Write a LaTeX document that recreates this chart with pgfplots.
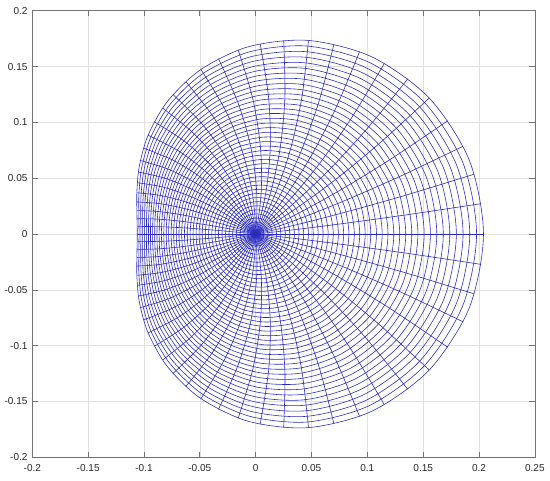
\documentclass[border=0pt]{standalone}
\usepackage{pgfplots}
\pgfplotsset{compat=1.18}
\usepackage{fontspec}
\setmainfont{Liberation Sans}
\definecolor{meshblue}{RGB}{40,40,190}
\pgfplotsset{
  ring/.style={color=meshblue, line width=0.42pt, smooth cycle, tension=0.5},
  ray/.style={color=meshblue, line width=0.42pt, smooth, tension=0.5},
}
\begin{document}
\begin{tikzpicture}
\useasboundingbox (0,0) rectangle (400pt,349.1pt);
\begin{axis}[
  at={(23.5pt,16.5pt)}, anchor=south west,
  scale only axis, width=365.5pt, height=324.8pt,
  xmin=-0.2, xmax=0.25, ymin=-0.2, ymax=0.2,
  xtick={-0.2,-0.15,-0.1,-0.05,0,0.05,0.1,0.15,0.2,0.25},
  ytick={-0.2,-0.15,-0.1,-0.05,0,0.05,0.1,0.15,0.2},
  scaled ticks=false,
  /pgf/number format/fixed, /pgf/number format/precision=2,
  /pgf/number format/assume math mode=true,
  tick label style={font=\fontsize{7.3}{8.5}\selectfont, text=black!85},
  xticklabel style={yshift=-1.5pt},
  grid=major, major grid style={black!12, line width=0.4pt},
  axis line style={black!55, line width=0.5pt},
  major tick style={black!55, line width=0.5pt},
  major tick length=4pt,
]
% rings (rho = k/42)
\addplot[ring] coordinates {(0.0036,0) (0.0035,0.0009) (0.0031,0.0018) (0.0025,0.0026) (0.0018,0.0031) (0.0009,0.0035) (0,0.0036) (-0.0010,0.0035) (-0.0018,0.0031) (-0.0025,0.0025) (-0.0031,0.0018) (-0.0035,0.0009) (-0.0036,0) (-0.0035,-0.0009) (-0.0031,-0.0018) (-0.0025,-0.0025) (-0.0018,-0.0031) (-0.0010,-0.0035) (0,-0.0036) (0.0009,-0.0035) (0.0018,-0.0031) (0.0025,-0.0026) (0.0031,-0.0018) (0.0035,-0.0009)};
\addplot[ring] coordinates {(0.0073,0) (0.0071,0.0019) (0.0063,0.0037) (0.0051,0.0052) (0.0035,0.0063) (0.0018,0.0070) (-0.0001,0.0072) (-0.0020,0.0069) (-0.0037,0.0061) (-0.0051,0.0050) (-0.0062,0.0035) (-0.0069,0.0018) (-0.0071,0) (-0.0069,-0.0018) (-0.0062,-0.0035) (-0.0051,-0.0050) (-0.0037,-0.0061) (-0.0020,-0.0069) (-0.0001,-0.0072) (0.0018,-0.0070) (0.0035,-0.0063) (0.0051,-0.0052) (0.0063,-0.0037) (0.0071,-0.0019)};
\addplot[ring] coordinates {(0.0111,0) (0.0106,0.0029) (0.0095,0.0056) (0.0076,0.0079) (0.0053,0.0096) (0.0026,0.0106) (-0.0003,0.0108) (-0.0030,0.0103) (-0.0055,0.0091) (-0.0076,0.0074) (-0.0092,0.0052) (-0.0102,0.0027) (-0.0106,0) (-0.0102,-0.0027) (-0.0092,-0.0052) (-0.0076,-0.0074) (-0.0055,-0.0091) (-0.0030,-0.0103) (-0.0003,-0.0108) (0.0026,-0.0106) (0.0053,-0.0096) (0.0076,-0.0079) (0.0095,-0.0056) (0.0106,-0.0029)};
\addplot[ring] coordinates {(0.0148,0) (0.0143,0.0040) (0.0127,0.0076) (0.0102,0.0106) (0.0070,0.0129) (0.0033,0.0141) (-0.0004,0.0144) (-0.0041,0.0137) (-0.0074,0.0121) (-0.0102,0.0097) (-0.0122,0.0068) (-0.0135,0.0035) (-0.0140,0) (-0.0135,-0.0035) (-0.0122,-0.0068) (-0.0102,-0.0097) (-0.0074,-0.0121) (-0.0041,-0.0137) (-0.0004,-0.0144) (0.0033,-0.0141) (0.0070,-0.0129) (0.0102,-0.0106) (0.0127,-0.0076) (0.0143,-0.0040)};
\addplot[ring] coordinates {(0.0187,0) (0.0180,0.0050) (0.0159,0.0096) (0.0127,0.0134) (0.0086,0.0162) (0.0041,0.0177) (-0.0007,0.0180) (-0.0053,0.0170) (-0.0093,0.0150) (-0.0127,0.0120) (-0.0152,0.0084) (-0.0168,0.0043) (-0.0173,0) (-0.0168,-0.0043) (-0.0152,-0.0084) (-0.0127,-0.0120) (-0.0093,-0.0150) (-0.0053,-0.0170) (-0.0007,-0.0180) (0.0041,-0.0177) (0.0086,-0.0162) (0.0127,-0.0134) (0.0159,-0.0096) (0.0180,-0.0050)};
\addplot[ring] coordinates {(0.0226,0) (0.0217,0.0061) (0.0192,0.0117) (0.0153,0.0163) (0.0103,0.0196) (0.0047,0.0214) (-0.0010,0.0216) (-0.0064,0.0204) (-0.0113,0.0178) (-0.0153,0.0143) (-0.0182,0.0099) (-0.0200,0.0051) (-0.0206,0) (-0.0200,-0.0051) (-0.0182,-0.0099) (-0.0153,-0.0143) (-0.0113,-0.0178) (-0.0064,-0.0204) (-0.0010,-0.0216) (0.0047,-0.0214) (0.0103,-0.0196) (0.0153,-0.0163) (0.0192,-0.0117) (0.0217,-0.0061)};
\addplot[ring] coordinates {(0.0266,0) (0.0255,0.0072) (0.0225,0.0138) (0.0178,0.0192) (0.0119,0.0230) (0.0053,0.0250) (-0.0014,0.0252) (-0.0077,0.0236) (-0.0133,0.0206) (-0.0178,0.0165) (-0.0211,0.0114) (-0.0232,0.0059) (-0.0239,0) (-0.0232,-0.0059) (-0.0211,-0.0114) (-0.0178,-0.0165) (-0.0133,-0.0206) (-0.0077,-0.0236) (-0.0014,-0.0252) (0.0053,-0.0250) (0.0119,-0.0230) (0.0178,-0.0192) (0.0225,-0.0138) (0.0255,-0.0072)};
\addplot[ring] coordinates {(0.0306,0) (0.0294,0.0084) (0.0258,0.0160) (0.0203,0.0222) (0.0135,0.0265) (0.0059,0.0287) (-0.0018,0.0288) (-0.0090,0.0269) (-0.0153,0.0234) (-0.0203,0.0186) (-0.0241,0.0129) (-0.0263,0.0066) (-0.0270,0) (-0.0263,-0.0066) (-0.0241,-0.0129) (-0.0203,-0.0186) (-0.0153,-0.0234) (-0.0090,-0.0269) (-0.0018,-0.0288) (0.0059,-0.0287) (0.0135,-0.0265) (0.0203,-0.0222) (0.0258,-0.0160) (0.0294,-0.0084)};
\addplot[ring] coordinates {(0.0347,0) (0.0333,0.0095) (0.0292,0.0182) (0.0229,0.0252) (0.0150,0.0300) (0.0064,0.0324) (-0.0023,0.0324) (-0.0103,0.0301) (-0.0173,0.0261) (-0.0229,0.0207) (-0.0269,0.0143) (-0.0294,0.0073) (-0.0302,0) (-0.0294,-0.0073) (-0.0269,-0.0143) (-0.0229,-0.0207) (-0.0173,-0.0261) (-0.0103,-0.0301) (-0.0023,-0.0324) (0.0064,-0.0324) (0.0150,-0.0300) (0.0229,-0.0252) (0.0292,-0.0182) (0.0333,-0.0095)};
\addplot[ring] coordinates {(0.0388,0) (0.0372,0.0107) (0.0326,0.0205) (0.0254,0.0283) (0.0166,0.0336) (0.0069,0.0361) (-0.0028,0.0359) (-0.0117,0.0333) (-0.0193,0.0288) (-0.0254,0.0227) (-0.0298,0.0156) (-0.0324,0.0080) (-0.0333,0) (-0.0324,-0.0080) (-0.0298,-0.0156) (-0.0254,-0.0227) (-0.0193,-0.0288) (-0.0117,-0.0333) (-0.0028,-0.0359) (0.0069,-0.0361) (0.0166,-0.0336) (0.0254,-0.0283) (0.0326,-0.0205) (0.0372,-0.0107)};
\addplot[ring] coordinates {(0.0430,0) (0.0412,0.0120) (0.0360,0.0228) (0.0280,0.0314) (0.0181,0.0372) (0.0073,0.0399) (-0.0034,0.0395) (-0.0131,0.0365) (-0.0214,0.0314) (-0.0280,0.0247) (-0.0326,0.0170) (-0.0354,0.0086) (-0.0363,0) (-0.0354,-0.0086) (-0.0326,-0.0170) (-0.0280,-0.0247) (-0.0214,-0.0314) (-0.0131,-0.0365) (-0.0034,-0.0395) (0.0073,-0.0399) (0.0181,-0.0372) (0.0280,-0.0314) (0.0360,-0.0228) (0.0412,-0.0120)};
\addplot[ring] coordinates {(0.0473,0) (0.0453,0.0132) (0.0394,0.0252) (0.0305,0.0346) (0.0195,0.0409) (0.0077,0.0437) (-0.0040,0.0431) (-0.0146,0.0397) (-0.0235,0.0339) (-0.0305,0.0266) (-0.0354,0.0182) (-0.0383,0.0092) (-0.0393,0) (-0.0383,-0.0092) (-0.0354,-0.0182) (-0.0305,-0.0266) (-0.0235,-0.0339) (-0.0146,-0.0397) (-0.0040,-0.0431) (0.0077,-0.0437) (0.0195,-0.0409) (0.0305,-0.0346) (0.0394,-0.0252) (0.0453,-0.0132)};
\addplot[ring] coordinates {(0.0516,0) (0.0494,0.0145) (0.0429,0.0276) (0.0330,0.0379) (0.0209,0.0446) (0.0080,0.0475) (-0.0047,0.0467) (-0.0161,0.0428) (-0.0256,0.0365) (-0.0330,0.0285) (-0.0382,0.0194) (-0.0412,0.0098) (-0.0422,0) (-0.0412,-0.0098) (-0.0382,-0.0194) (-0.0330,-0.0285) (-0.0256,-0.0365) (-0.0161,-0.0428) (-0.0047,-0.0467) (0.0080,-0.0475) (0.0209,-0.0446) (0.0330,-0.0379) (0.0429,-0.0276) (0.0494,-0.0145)};
\addplot[ring] coordinates {(0.0560,0) (0.0535,0.0159) (0.0464,0.0301) (0.0355,0.0412) (0.0223,0.0484) (0.0082,0.0513) (-0.0054,0.0503) (-0.0177,0.0459) (-0.0278,0.0389) (-0.0355,0.0303) (-0.0409,0.0206) (-0.0441,0.0104) (-0.0451,0) (-0.0441,-0.0104) (-0.0409,-0.0206) (-0.0355,-0.0303) (-0.0278,-0.0389) (-0.0177,-0.0459) (-0.0054,-0.0503) (0.0082,-0.0513) (0.0223,-0.0484) (0.0355,-0.0412) (0.0464,-0.0301) (0.0535,-0.0159)};
\addplot[ring] coordinates {(0.0604,0) (0.0577,0.0172) (0.0499,0.0326) (0.0381,0.0446) (0.0237,0.0522) (0.0084,0.0552) (-0.0063,0.0538) (-0.0193,0.0489) (-0.0300,0.0414) (-0.0381,0.0321) (-0.0436,0.0218) (-0.0469,0.0110) (-0.0479,0) (-0.0469,-0.0110) (-0.0436,-0.0218) (-0.0381,-0.0321) (-0.0300,-0.0414) (-0.0193,-0.0489) (-0.0063,-0.0538) (0.0084,-0.0552) (0.0237,-0.0522) (0.0381,-0.0446) (0.0499,-0.0326) (0.0577,-0.0172)};
\addplot[ring] coordinates {(0.0649,0) (0.0619,0.0186) (0.0534,0.0352) (0.0406,0.0480) (0.0250,0.0560) (0.0086,0.0590) (-0.0071,0.0574) (-0.0209,0.0519) (-0.0321,0.0437) (-0.0406,0.0338) (-0.0463,0.0229) (-0.0496,0.0115) (-0.0507,0) (-0.0496,-0.0115) (-0.0463,-0.0229) (-0.0406,-0.0338) (-0.0321,-0.0437) (-0.0209,-0.0519) (-0.0071,-0.0574) (0.0086,-0.0590) (0.0250,-0.0560) (0.0406,-0.0480) (0.0534,-0.0352) (0.0619,-0.0186)};
\addplot[ring] coordinates {(0.0695,0) (0.0662,0.0200) (0.0570,0.0378) (0.0431,0.0515) (0.0263,0.0600) (0.0087,0.0630) (-0.0080,0.0609) (-0.0226,0.0549) (-0.0344,0.0460) (-0.0431,0.0354) (-0.0490,0.0239) (-0.0523,0.0120) (-0.0534,0) (-0.0523,-0.0120) (-0.0490,-0.0239) (-0.0431,-0.0354) (-0.0344,-0.0460) (-0.0226,-0.0549) (-0.0080,-0.0609) (0.0087,-0.0630) (0.0263,-0.0600) (0.0431,-0.0515) (0.0570,-0.0378) (0.0662,-0.0200)};
\addplot[ring] coordinates {(0.0741,0) (0.0706,0.0215) (0.0606,0.0405) (0.0456,0.0550) (0.0276,0.0639) (0.0088,0.0669) (-0.0090,0.0645) (-0.0244,0.0579) (-0.0366,0.0483) (-0.0456,0.0370) (-0.0516,0.0249) (-0.0550,0.0125) (-0.0561,0) (-0.0550,-0.0125) (-0.0516,-0.0249) (-0.0456,-0.0370) (-0.0366,-0.0483) (-0.0244,-0.0579) (-0.0090,-0.0645) (0.0088,-0.0669) (0.0276,-0.0639) (0.0456,-0.0550) (0.0606,-0.0405) (0.0706,-0.0215)};
\addplot[ring] coordinates {(0.0788,0) (0.0750,0.0230) (0.0643,0.0432) (0.0481,0.0586) (0.0288,0.0679) (0.0088,0.0708) (-0.0100,0.0681) (-0.0261,0.0608) (-0.0389,0.0506) (-0.0481,0.0386) (-0.0542,0.0259) (-0.0576,0.0129) (-0.0587,0) (-0.0576,-0.0129) (-0.0542,-0.0259) (-0.0481,-0.0386) (-0.0389,-0.0506) (-0.0261,-0.0608) (-0.0100,-0.0681) (0.0088,-0.0708) (0.0288,-0.0679) (0.0481,-0.0586) (0.0643,-0.0432) (0.0750,-0.0230)};
\addplot[ring] coordinates {(0.0835,0) (0.0795,0.0245) (0.0679,0.0460) (0.0506,0.0623) (0.0300,0.0720) (0.0087,0.0748) (-0.0111,0.0716) (-0.0280,0.0637) (-0.0411,0.0527) (-0.0506,0.0401) (-0.0568,0.0268) (-0.0602,0.0134) (-0.0613,0) (-0.0602,-0.0134) (-0.0568,-0.0268) (-0.0506,-0.0401) (-0.0411,-0.0527) (-0.0280,-0.0637) (-0.0111,-0.0716) (0.0087,-0.0748) (0.0300,-0.0720) (0.0506,-0.0623) (0.0679,-0.0460) (0.0795,-0.0245)};
\addplot[ring] coordinates {(0.0883,0) (0.0840,0.0260) (0.0716,0.0489) (0.0531,0.0660) (0.0312,0.0761) (0.0086,0.0788) (-0.0123,0.0751) (-0.0298,0.0666) (-0.0435,0.0549) (-0.0531,0.0415) (-0.0593,0.0277) (-0.0627,0.0138) (-0.0638,0) (-0.0627,-0.0138) (-0.0593,-0.0277) (-0.0531,-0.0415) (-0.0435,-0.0549) (-0.0298,-0.0666) (-0.0123,-0.0751) (0.0086,-0.0788) (0.0312,-0.0761) (0.0531,-0.0660) (0.0716,-0.0489) (0.0840,-0.0260)};
\addplot[ring] coordinates {(0.0932,0) (0.0885,0.0276) (0.0753,0.0518) (0.0556,0.0698) (0.0323,0.0802) (0.0085,0.0828) (-0.0134,0.0787) (-0.0318,0.0694) (-0.0458,0.0569) (-0.0556,0.0429) (-0.0619,0.0285) (-0.0652,0.0142) (-0.0663,0) (-0.0652,-0.0142) (-0.0619,-0.0285) (-0.0556,-0.0429) (-0.0458,-0.0569) (-0.0318,-0.0694) (-0.0134,-0.0787) (0.0085,-0.0828) (0.0323,-0.0802) (0.0556,-0.0698) (0.0753,-0.0518) (0.0885,-0.0276)};
\addplot[ring] coordinates {(0.0981,0) (0.0931,0.0292) (0.0791,0.0547) (0.0581,0.0737) (0.0334,0.0844) (0.0083,0.0869) (-0.0147,0.0822) (-0.0337,0.0722) (-0.0481,0.0590) (-0.0581,0.0443) (-0.0644,0.0293) (-0.0677,0.0145) (-0.0687,0) (-0.0677,-0.0145) (-0.0644,-0.0293) (-0.0581,-0.0443) (-0.0481,-0.0590) (-0.0337,-0.0722) (-0.0147,-0.0822) (0.0083,-0.0869) (0.0334,-0.0844) (0.0581,-0.0737) (0.0791,-0.0547) (0.0931,-0.0292)};
\addplot[ring] coordinates {(0.1031,0) (0.0978,0.0309) (0.0828,0.0578) (0.0606,0.0776) (0.0345,0.0887) (0.0080,0.0910) (-0.0160,0.0857) (-0.0357,0.0750) (-0.0505,0.0610) (-0.0606,0.0456) (-0.0668,0.0300) (-0.0701,0.0149) (-0.0711,0) (-0.0701,-0.0149) (-0.0668,-0.0300) (-0.0606,-0.0456) (-0.0505,-0.0610) (-0.0357,-0.0750) (-0.0160,-0.0857) (0.0080,-0.0910) (0.0345,-0.0887) (0.0606,-0.0776) (0.0828,-0.0578) (0.0978,-0.0309)};
\addplot[ring] coordinates {(0.1082,0) (0.1025,0.0325) (0.0866,0.0608) (0.0631,0.0816) (0.0355,0.0930) (0.0077,0.0951) (-0.0174,0.0892) (-0.0378,0.0777) (-0.0529,0.0629) (-0.0631,0.0468) (-0.0693,0.0308) (-0.0725,0.0152) (-0.0734,0) (-0.0725,-0.0152) (-0.0693,-0.0308) (-0.0631,-0.0468) (-0.0529,-0.0629) (-0.0378,-0.0777) (-0.0174,-0.0892) (0.0077,-0.0951) (0.0355,-0.0930) (0.0631,-0.0816) (0.0866,-0.0608) (0.1025,-0.0325)};
\addplot[ring] coordinates {(0.1133,0) (0.1073,0.0342) (0.0904,0.0640) (0.0656,0.0856) (0.0365,0.0973) (0.0073,0.0992) (-0.0188,0.0927) (-0.0399,0.0804) (-0.0553,0.0648) (-0.0656,0.0480) (-0.0717,0.0314) (-0.0748,0.0155) (-0.0757,0) (-0.0748,-0.0155) (-0.0717,-0.0314) (-0.0656,-0.0480) (-0.0553,-0.0648) (-0.0399,-0.0804) (-0.0188,-0.0927) (0.0073,-0.0992) (0.0365,-0.0973) (0.0656,-0.0856) (0.0904,-0.0640) (0.1073,-0.0342)};
\addplot[ring] coordinates {(0.1185,0) (0.1121,0.0360) (0.0943,0.0671) (0.0680,0.0897) (0.0375,0.1017) (0.0069,0.1033) (-0.0203,0.0962) (-0.0420,0.0831) (-0.0577,0.0666) (-0.0680,0.0492) (-0.0741,0.0321) (-0.0771,0.0157) (-0.0780,0) (-0.0771,-0.0157) (-0.0741,-0.0321) (-0.0680,-0.0492) (-0.0577,-0.0666) (-0.0420,-0.0831) (-0.0203,-0.0962) (0.0069,-0.1033) (0.0375,-0.1017) (0.0680,-0.0897) (0.0943,-0.0671) (0.1121,-0.0360)};
\addplot[ring] coordinates {(0.1237,0) (0.1170,0.0378) (0.0982,0.0704) (0.0705,0.0938) (0.0384,0.1062) (0.0064,0.1075) (-0.0218,0.0997) (-0.0442,0.0857) (-0.0602,0.0684) (-0.0705,0.0503) (-0.0764,0.0327) (-0.0793,0.0160) (-0.0801,0) (-0.0793,-0.0160) (-0.0764,-0.0327) (-0.0705,-0.0503) (-0.0602,-0.0684) (-0.0442,-0.0857) (-0.0218,-0.0997) (0.0064,-0.1075) (0.0384,-0.1062) (0.0705,-0.0938) (0.0982,-0.0704) (0.1170,-0.0378)};
\addplot[ring] coordinates {(0.1290,0) (0.1220,0.0396) (0.1021,0.0737) (0.0729,0.0981) (0.0393,0.1106) (0.0059,0.1116) (-0.0234,0.1032) (-0.0464,0.0883) (-0.0626,0.0702) (-0.0729,0.0513) (-0.0787,0.0332) (-0.0815,0.0162) (-0.0823,0) (-0.0815,-0.0162) (-0.0787,-0.0332) (-0.0729,-0.0513) (-0.0626,-0.0702) (-0.0464,-0.0883) (-0.0234,-0.1032) (0.0059,-0.1116) (0.0393,-0.1106) (0.0729,-0.0981) (0.1021,-0.0737) (0.1220,-0.0396)};
\addplot[ring] coordinates {(0.1344,0) (0.1269,0.0414) (0.1060,0.0770) (0.0754,0.1023) (0.0401,0.1152) (0.0053,0.1158) (-0.0250,0.1066) (-0.0486,0.0908) (-0.0651,0.0719) (-0.0754,0.0523) (-0.0810,0.0337) (-0.0836,0.0164) (-0.0844,0) (-0.0836,-0.0164) (-0.0810,-0.0337) (-0.0754,-0.0523) (-0.0651,-0.0719) (-0.0486,-0.0908) (-0.0250,-0.1066) (0.0053,-0.1158) (0.0401,-0.1152) (0.0754,-0.1023) (0.1060,-0.0770) (0.1269,-0.0414)};
\addplot[ring] coordinates {(0.1398,0) (0.1320,0.0433) (0.1100,0.0804) (0.0778,0.1067) (0.0409,0.1198) (0.0047,0.1201) (-0.0267,0.1101) (-0.0509,0.0934) (-0.0676,0.0735) (-0.0778,0.0533) (-0.0833,0.0342) (-0.0858,0.0166) (-0.0864,0) (-0.0858,-0.0166) (-0.0833,-0.0342) (-0.0778,-0.0533) (-0.0676,-0.0735) (-0.0509,-0.0934) (-0.0267,-0.1101) (0.0047,-0.1201) (0.0409,-0.1198) (0.0778,-0.1067) (0.1100,-0.0804) (0.1320,-0.0433)};
\addplot[ring] coordinates {(0.1453,0) (0.1371,0.0452) (0.1140,0.0839) (0.0803,0.1111) (0.0417,0.1244) (0.0040,0.1243) (-0.0284,0.1135) (-0.0533,0.0959) (-0.0702,0.0751) (-0.0803,0.0542) (-0.0855,0.0346) (-0.0878,0.0168) (-0.0884,0) (-0.0878,-0.0168) (-0.0855,-0.0346) (-0.0803,-0.0542) (-0.0702,-0.0751) (-0.0533,-0.0959) (-0.0284,-0.1135) (0.0040,-0.1243) (0.0417,-0.1244) (0.0803,-0.1111) (0.1140,-0.0839) (0.1371,-0.0452)};
\addplot[ring] coordinates {(0.1509,0) (0.1422,0.0472) (0.1180,0.0874) (0.0827,0.1156) (0.0424,0.1291) (0.0033,0.1286) (-0.0303,0.1170) (-0.0556,0.0983) (-0.0727,0.0767) (-0.0827,0.0551) (-0.0878,0.0350) (-0.0899,0.0169) (-0.0904,0) (-0.0899,-0.0169) (-0.0878,-0.0350) (-0.0827,-0.0551) (-0.0727,-0.0767) (-0.0556,-0.0983) (-0.0303,-0.1170) (0.0033,-0.1286) (0.0424,-0.1291) (0.0827,-0.1156) (0.1180,-0.0874) (0.1422,-0.0472)};
\addplot[ring] coordinates {(0.1565,0) (0.1475,0.0492) (0.1221,0.0910) (0.0851,0.1201) (0.0431,0.1338) (0.0025,0.1329) (-0.0321,0.1204) (-0.0581,0.1008) (-0.0753,0.0782) (-0.0851,0.0559) (-0.0899,0.0354) (-0.0918,0.0170) (-0.0923,0) (-0.0918,-0.0170) (-0.0899,-0.0354) (-0.0851,-0.0559) (-0.0753,-0.0782) (-0.0581,-0.1008) (-0.0321,-0.1204) (0.0025,-0.1329) (0.0431,-0.1338) (0.0851,-0.1201) (0.1221,-0.0910) (0.1475,-0.0492)};
\addplot[ring] coordinates {(0.1622,0) (0.1527,0.0512) (0.1261,0.0947) (0.0875,0.1247) (0.0438,0.1386) (0.0016,0.1372) (-0.0340,0.1238) (-0.0605,0.1031) (-0.0778,0.0797) (-0.0875,0.0566) (-0.0921,0.0357) (-0.0938,0.0171) (-0.0942,0) (-0.0938,-0.0171) (-0.0921,-0.0357) (-0.0875,-0.0566) (-0.0778,-0.0797) (-0.0605,-0.1031) (-0.0340,-0.1238) (0.0016,-0.1372) (0.0438,-0.1386) (0.0875,-0.1247) (0.1261,-0.0947) (0.1527,-0.0512)};
\addplot[ring] coordinates {(0.1680,0) (0.1580,0.0532) (0.1302,0.0984) (0.0900,0.1293) (0.0444,0.1434) (0.0007,0.1415) (-0.0360,0.1272) (-0.0630,0.1055) (-0.0804,0.0811) (-0.0900,0.0573) (-0.0942,0.0360) (-0.0957,0.0172) (-0.0960,0) (-0.0957,-0.0172) (-0.0942,-0.0360) (-0.0900,-0.0573) (-0.0804,-0.0811) (-0.0630,-0.1055) (-0.0360,-0.1272) (0.0007,-0.1415) (0.0444,-0.1434) (0.0900,-0.1293) (0.1302,-0.0984) (0.1580,-0.0532)};
\addplot[ring] coordinates {(0.1738,0) (0.1634,0.0553) (0.1344,0.1021) (0.0924,0.1340) (0.0450,0.1483) (-0.0003,0.1458) (-0.0380,0.1306) (-0.0656,0.1078) (-0.0830,0.0824) (-0.0924,0.0580) (-0.0963,0.0363) (-0.0976,0.0173) (-0.0978,0) (-0.0976,-0.0173) (-0.0963,-0.0363) (-0.0924,-0.0580) (-0.0830,-0.0824) (-0.0656,-0.1078) (-0.0380,-0.1306) (-0.0003,-0.1458) (0.0450,-0.1483) (0.0924,-0.1340) (0.1344,-0.1021) (0.1634,-0.0553)};
\addplot[ring] coordinates {(0.1797,0) (0.1689,0.0574) (0.1385,0.1059) (0.0948,0.1388) (0.0455,0.1532) (-0.0013,0.1502) (-0.0401,0.1340) (-0.0682,0.1101) (-0.0857,0.0837) (-0.0948,0.0586) (-0.0984,0.0365) (-0.0994,0.0173) (-0.0995,0) (-0.0994,-0.0173) (-0.0984,-0.0365) (-0.0948,-0.0586) (-0.0857,-0.0837) (-0.0682,-0.1101) (-0.0401,-0.1340) (-0.0013,-0.1502) (0.0455,-0.1532) (0.0948,-0.1388) (0.1385,-0.1059) (0.1689,-0.0574)};
\addplot[ring] coordinates {(0.1857,0) (0.1743,0.0596) (0.1427,0.1098) (0.0971,0.1437) (0.0460,0.1582) (-0.0024,0.1546) (-0.0423,0.1374) (-0.0708,0.1124) (-0.0883,0.0850) (-0.0971,0.0592) (-0.1005,0.0366) (-0.1012,0.0174) (-0.1012,0) (-0.1012,-0.0174) (-0.1005,-0.0366) (-0.0971,-0.0592) (-0.0883,-0.0850) (-0.0708,-0.1124) (-0.0423,-0.1374) (-0.0024,-0.1546) (0.0460,-0.1582) (0.0971,-0.1437) (0.1427,-0.1098) (0.1743,-0.0596)};
\addplot[ring] coordinates {(0.1917,0) (0.1799,0.0618) (0.1469,0.1138) (0.0995,0.1486) (0.0465,0.1632) (-0.0035,0.1590) (-0.0444,0.1407) (-0.0735,0.1146) (-0.0910,0.0862) (-0.0995,0.0597) (-0.1025,0.0368) (-0.1029,0.0174) (-0.1028,0) (-0.1029,-0.0174) (-0.1025,-0.0368) (-0.0995,-0.0597) (-0.0910,-0.0862) (-0.0735,-0.1146) (-0.0444,-0.1407) (-0.0035,-0.1590) (0.0465,-0.1632) (0.0995,-0.1486) (0.1469,-0.1138) (0.1799,-0.0618)};
\addplot[ring] coordinates {(0.1978,0) (0.1855,0.0640) (0.1512,0.1178) (0.1019,0.1536) (0.0469,0.1683) (-0.0047,0.1634) (-0.0467,0.1441) (-0.0762,0.1167) (-0.0936,0.0874) (-0.1019,0.0602) (-0.1045,0.0369) (-0.1046,0.0173) (-0.1044,0) (-0.1046,-0.0173) (-0.1045,-0.0369) (-0.1019,-0.0602) (-0.0936,-0.0874) (-0.0762,-0.1167) (-0.0467,-0.1441) (-0.0047,-0.1634) (0.0469,-0.1683) (0.1019,-0.1536) (0.1512,-0.1178) (0.1855,-0.0640)};
\addplot[ring] coordinates {(0.2040,0) (0.1912,0.0663) (0.1554,0.1218) (0.1042,0.1586) (0.0473,0.1734) (-0.0060,0.1679) (-0.0490,0.1474) (-0.0789,0.1189) (-0.0963,0.0885) (-0.1042,0.0606) (-0.1064,0.0369) (-0.1063,0.0173) (-0.1060,0) (-0.1063,-0.0173) (-0.1064,-0.0369) (-0.1042,-0.0606) (-0.0963,-0.0885) (-0.0789,-0.1189) (-0.0490,-0.1474) (-0.0060,-0.1679) (0.0473,-0.1734) (0.1042,-0.1586) (0.1554,-0.1218) (0.1912,-0.0663)};
% rays, every 6 degrees, drawn as pairs through the centre
\addplot[ray] coordinates {(-0.1060,0) (-0.0874,0) (-0.0638,0) (-0.0348,0) (0,0) (0.0409,0) (0.0883,0) (0.1426,0) (0.2040,0)};
\addplot[ray] coordinates {(-0.1060,-0.0068) (-0.0873,-0.0066) (-0.0637,-0.0055) (-0.0347,-0.0033) (0,0) (0.0406,0.0046) (0.0876,0.0106) (0.1413,0.0181) (0.2019,0.0272)};
\addplot[ray] coordinates {(-0.1062,-0.0137) (-0.0870,-0.0133) (-0.0631,-0.0110) (-0.0342,-0.0066) (0,0) (0.0398,0.0091) (0.0855,0.0210) (0.1374,0.0357) (0.1957,0.0536)};
\addplot[ray] coordinates {(-0.1064,-0.0210) (-0.0865,-0.0201) (-0.0623,-0.0165) (-0.0335,-0.0099) (0,0) (0.0385,0.0135) (0.0821,0.0309) (0.1311,0.0525) (0.1857,0.0786)};
\addplot[ray] coordinates {(-0.1065,-0.0287) (-0.0856,-0.0272) (-0.0610,-0.0221) (-0.0325,-0.0132) (0,0) (0.0366,0.0177) (0.0774,0.0403) (0.1225,0.0681) (0.1721,0.1015)};
\addplot[ray] coordinates {(-0.1064,-0.0369) (-0.0844,-0.0344) (-0.0593,-0.0277) (-0.0312,-0.0163) (0,0) (0.0343,0.0216) (0.0716,0.0489) (0.1120,0.0822) (0.1554,0.1218)};
\addplot[ray] coordinates {(-0.1060,-0.0459) (-0.0827,-0.0420) (-0.0572,-0.0332) (-0.0296,-0.0194) (0,0) (0.0315,0.0252) (0.0648,0.0565) (0.0998,0.0944) (0.1363,0.1391)};
\addplot[ray] coordinates {(-0.1050,-0.0555) (-0.0805,-0.0498) (-0.0546,-0.0388) (-0.0277,-0.0223) (0,0) (0.0284,0.0284) (0.0572,0.0632) (0.0862,0.1046) (0.1153,0.1530)};
\addplot[ray] coordinates {(-0.1032,-0.0659) (-0.0775,-0.0578) (-0.0515,-0.0443) (-0.0256,-0.0251) (0,0) (0.0249,0.0312) (0.0489,0.0686) (0.0717,0.1126) (0.0930,0.1633)};
\addplot[ray] coordinates {(-0.1004,-0.0769) (-0.0737,-0.0660) (-0.0478,-0.0497) (-0.0231,-0.0277) (0,0) (0.0212,0.0335) (0.0402,0.0730) (0.0566,0.1185) (0.0701,0.1701)};
\addplot[ray] coordinates {(-0.0963,-0.0885) (-0.0689,-0.0743) (-0.0435,-0.0549) (-0.0204,-0.0301) (0,0) (0.0173,0.0354) (0.0312,0.0761) (0.0413,0.1221) (0.0473,0.1734)};
\addplot[ray] coordinates {(-0.0907,-0.1005) (-0.0631,-0.0826) (-0.0385,-0.0598) (-0.0174,-0.0322) (0,0) (0.0133,0.0368) (0.0221,0.0780) (0.0262,0.1236) (0.0251,0.1734)};
\addplot[ray] coordinates {(-0.0833,-0.1128) (-0.0561,-0.0907) (-0.0329,-0.0644) (-0.0141,-0.0341) (0,0) (0.0092,0.0377) (0.0131,0.0788) (0.0115,0.1231) (0.0040,0.1704)};
\addplot[ray] coordinates {(-0.0740,-0.1249) (-0.0478,-0.0984) (-0.0266,-0.0686) (-0.0106,-0.0357) (0,0) (0.0050,0.0382) (0.0042,0.0785) (-0.0025,0.1208) (-0.0156,0.1648)};
\addplot[ray] coordinates {(-0.0626,-0.1366) (-0.0383,-0.1055) (-0.0197,-0.0722) (-0.0069,-0.0369) (0,0) (0.0009,0.0382) (-0.0042,0.0773) (-0.0156,0.1170) (-0.0333,0.1570)};
\addplot[ray] coordinates {(-0.0490,-0.1474) (-0.0276,-0.1118) (-0.0123,-0.0751) (-0.0031,-0.0377) (0,0) (-0.0031,0.0377) (-0.0123,0.0751) (-0.0276,0.1118) (-0.0490,0.1474)};
\addplot[ray] coordinates {(-0.0626,0.1366) (-0.0383,0.1055) (-0.0197,0.0722) (-0.0069,0.0369) (0,0) (0.0009,-0.0382) (-0.0042,-0.0773) (-0.0156,-0.1170) (-0.0333,-0.1570)};
\addplot[ray] coordinates {(-0.0740,0.1249) (-0.0478,0.0984) (-0.0266,0.0686) (-0.0106,0.0357) (0,0) (0.0050,-0.0382) (0.0042,-0.0785) (-0.0025,-0.1208) (-0.0156,-0.1648)};
\addplot[ray] coordinates {(-0.0833,0.1128) (-0.0561,0.0907) (-0.0329,0.0644) (-0.0141,0.0341) (0,0) (0.0092,-0.0377) (0.0131,-0.0788) (0.0115,-0.1231) (0.0040,-0.1704)};
\addplot[ray] coordinates {(-0.0907,0.1005) (-0.0631,0.0826) (-0.0385,0.0598) (-0.0174,0.0322) (0,0) (0.0133,-0.0368) (0.0221,-0.0780) (0.0262,-0.1236) (0.0251,-0.1734)};
\addplot[ray] coordinates {(-0.0963,0.0885) (-0.0689,0.0743) (-0.0435,0.0549) (-0.0204,0.0301) (0,0) (0.0173,-0.0354) (0.0312,-0.0761) (0.0413,-0.1221) (0.0473,-0.1734)};
\addplot[ray] coordinates {(-0.1004,0.0769) (-0.0737,0.0660) (-0.0478,0.0497) (-0.0231,0.0277) (0,0) (0.0212,-0.0335) (0.0402,-0.0730) (0.0566,-0.1185) (0.0701,-0.1701)};
\addplot[ray] coordinates {(-0.1032,0.0659) (-0.0775,0.0578) (-0.0515,0.0443) (-0.0256,0.0251) (0,0) (0.0249,-0.0312) (0.0489,-0.0686) (0.0717,-0.1126) (0.0930,-0.1633)};
\addplot[ray] coordinates {(-0.1050,0.0555) (-0.0805,0.0498) (-0.0546,0.0388) (-0.0277,0.0223) (0,0) (0.0284,-0.0284) (0.0572,-0.0632) (0.0862,-0.1046) (0.1153,-0.1530)};
\addplot[ray] coordinates {(-0.1060,0.0459) (-0.0827,0.0420) (-0.0572,0.0332) (-0.0296,0.0194) (0,0) (0.0315,-0.0252) (0.0648,-0.0565) (0.0998,-0.0944) (0.1363,-0.1391)};
\addplot[ray] coordinates {(-0.1064,0.0369) (-0.0844,0.0344) (-0.0593,0.0277) (-0.0312,0.0163) (0,0) (0.0343,-0.0216) (0.0716,-0.0489) (0.1120,-0.0822) (0.1554,-0.1218)};
\addplot[ray] coordinates {(-0.1065,0.0287) (-0.0856,0.0272) (-0.0610,0.0221) (-0.0325,0.0132) (0,0) (0.0366,-0.0177) (0.0774,-0.0403) (0.1225,-0.0681) (0.1721,-0.1015)};
\addplot[ray] coordinates {(-0.1064,0.0210) (-0.0865,0.0201) (-0.0623,0.0165) (-0.0335,0.0099) (0,0) (0.0385,-0.0135) (0.0821,-0.0309) (0.1311,-0.0525) (0.1857,-0.0786)};
\addplot[ray] coordinates {(-0.1062,0.0137) (-0.0870,0.0133) (-0.0631,0.0110) (-0.0342,0.0066) (0,0) (0.0398,-0.0091) (0.0855,-0.0210) (0.1374,-0.0357) (0.1957,-0.0536)};
\addplot[ray] coordinates {(-0.1060,0.0068) (-0.0873,0.0066) (-0.0637,0.0055) (-0.0347,0.0033) (0,0) (0.0406,-0.0046) (0.0876,-0.0106) (0.1413,-0.0181) (0.2019,-0.0272)};
\end{axis}
\end{tikzpicture}
\end{document}
